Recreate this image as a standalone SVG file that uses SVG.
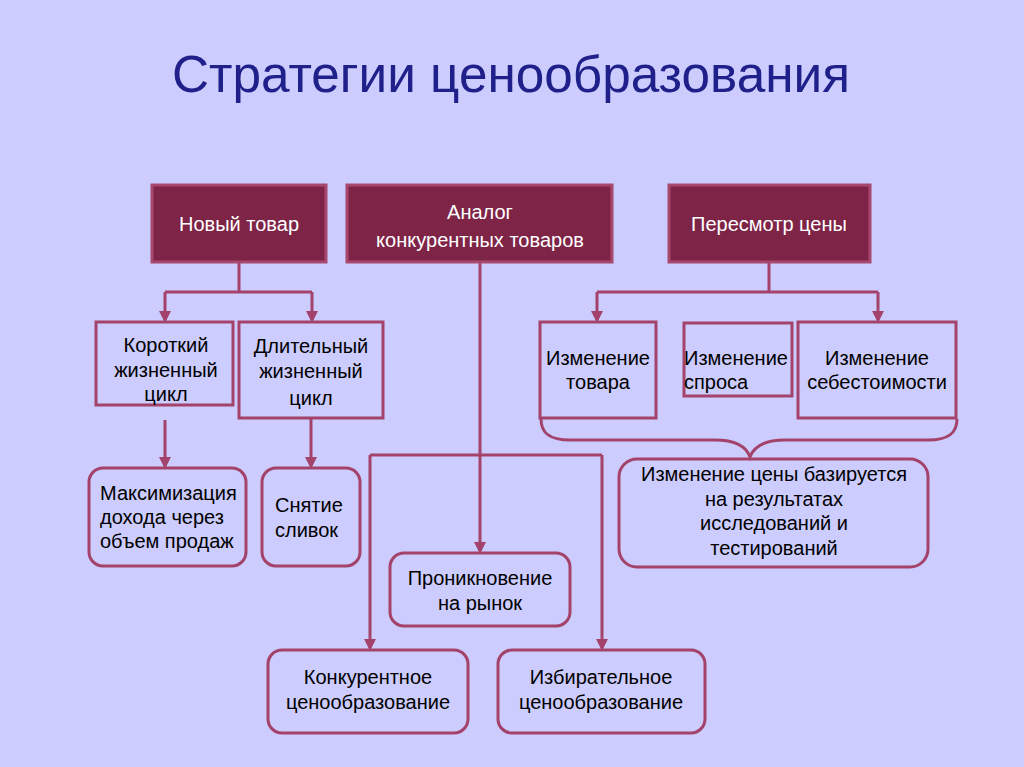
<svg xmlns="http://www.w3.org/2000/svg" width="1024" height="767" viewBox="0 0 1024 767">
<defs>
<style>
.t{font-family:"Liberation Sans",Arial,sans-serif;font-size:20px;fill:#000}
.w{font-family:"Liberation Sans",Arial,sans-serif;font-size:20px;fill:#fff}
.c{text-anchor:middle}
.top{fill:#7E2447;stroke:#A8486F;stroke-width:3}
.box{fill:none;stroke:#A3426B;stroke-width:3}
.ln{fill:none;stroke:#A3426B;stroke-width:3}
.ar{fill:none;stroke:#A3426B;stroke-width:3;marker-end:url(#a)}
</style>
<marker id="a" markerWidth="4" markerHeight="4" refX="3" refY="2" orient="auto" markerUnits="strokeWidth">
<path d="M0,0 L4,2 L0,4 z" fill="#A3426B"/>
</marker>
</defs>
<rect width="1024" height="767" fill="#CCCCFE"/>
<text x="511" y="92" font-family="'Liberation Sans',Arial,sans-serif" font-size="52" fill="#20208A" text-anchor="middle" textLength="678" lengthAdjust="spacingAndGlyphs">Стратегии ценообразования</text>

<g id="connectors">
<path class="ln" d="M239,262 V292 M165,292 H312"/>
<path class="ar" d="M165,292 V320"/>
<path class="ar" d="M312,292 V320"/>
<path class="ar" d="M165,420 V466"/>
<path class="ar" d="M311,418 V466"/>
<path class="ar" d="M480,262 V551"/>
<path class="ln" d="M370,455 H602"/>
<path class="ar" d="M370,455 V648"/>
<path class="ar" d="M602,455 V648"/>
<path class="ln" d="M769,262 V292 M597,292 H878"/>
<path class="ar" d="M597,292 V320"/>
<path class="ar" d="M878,292 V320"/>
<path class="ln" d="M541,419 C541,432 548,440 570,440 H715 C735,440 746,446 750,457 C754,446 765,440 785,440 H928 C950,440 957,432 957,419"/>
</g>

<g id="n1"><rect class="top" x="152" y="185" width="174" height="77"/><text class="w c" x="239" y="231">Новый товар</text></g>
<g id="n2"><rect class="top" x="347" y="185" width="265" height="77"/><text class="w c" x="480" y="219">Аналог</text><text class="w c" x="480" y="247">конкурентных товаров</text></g>
<g id="n3"><rect class="top" x="669" y="185" width="201" height="77"/><text class="w c" x="769" y="231">Пересмотр цены</text></g>

<g id="n4"><rect class="box" x="96" y="322" width="137" height="83"/><text class="t c" x="166" y="352">Короткий</text><text class="t c" x="166" y="377">жизненный</text><text class="t c" x="166" y="401">цикл</text></g>
<g id="n5"><rect class="box" x="239" y="322" width="144" height="96"/><text class="t c" x="311" y="353">Длительный</text><text class="t c" x="311" y="378">жизненный</text><text class="t c" x="311" y="405">цикл</text></g>

<g id="n6"><rect class="box" x="89" y="468" width="157" height="98" rx="14"/><text class="t" x="100" y="500">Максимизация</text><text class="t" x="100" y="524">дохода через</text><text class="t" x="100" y="548">объем продаж</text></g>
<g id="n7"><rect class="box" x="262" y="468" width="98" height="98" rx="14"/><text class="t" x="275" y="512">Снятие</text><text class="t" x="275" y="537">сливок</text></g>

<g id="n8"><rect class="box" x="390" y="553" width="180" height="73" rx="14"/><text class="t c" x="480" y="585">Проникновение</text><text class="t c" x="480" y="610">на рынок</text></g>
<g id="n9"><rect class="box" x="268" y="650" width="200" height="83" rx="14"/><text class="t c" x="368" y="684">Конкурентное</text><text class="t c" x="368" y="709">ценообразование</text></g>
<g id="n10"><rect class="box" x="498" y="650" width="207" height="83" rx="14"/><text class="t c" x="601" y="684">Избирательное</text><text class="t c" x="601" y="709">ценообразование</text></g>

<g id="n11"><rect class="box" x="540" y="322" width="116" height="96"/><text class="t c" x="598" y="365">Изменение</text><text class="t c" x="598" y="389">товара</text></g>
<g id="n12"><rect class="box" x="684" y="323" width="108" height="73"/><text class="t" x="684" y="365">Изменение</text><text class="t" x="684" y="389">спроса</text></g>
<g id="n13"><rect class="box" x="798" y="322" width="158" height="96"/><text class="t c" x="877" y="365">Изменение</text><text class="t c" x="877" y="389">себестоимости</text></g>

<g id="n14"><rect class="box" x="619" y="459" width="309" height="108" rx="18"/><text class="t c" x="774" y="481">Изменение цены базируется</text><text class="t c" x="774" y="506">на результатах</text><text class="t c" x="774" y="530">исследований и</text><text class="t c" x="774" y="555">тестирований</text></g>
</svg>
